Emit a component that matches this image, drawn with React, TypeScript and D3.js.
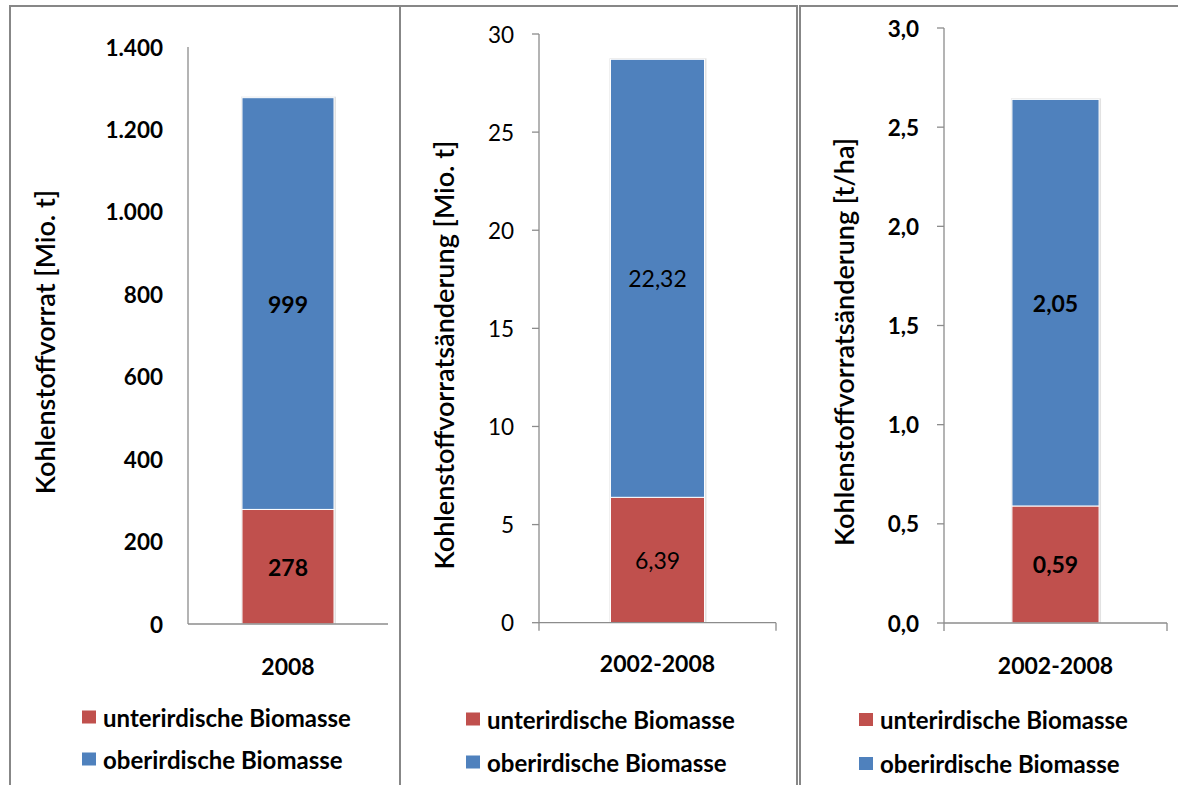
import * as d3 from "d3";
import React from "react";

// chart values
const categories = ["2008", "2002-2008", "2002-2008"];
const seriesNames = ["unterirdische Biomasse", "oberirdische Biomasse"];
const unterirdisch = [278, 6.39, 0.59];
const oberirdisch = [999, 22.32, 2.05];
const yMax = [1400, 30, 3];
const yTicks = [
  [0, 200, 400, 600, 800, 1000, 1200, 1400],
  [0, 5, 10, 15, 20, 25, 30],
  [0, 0.5, 1, 1.5, 2, 2.5, 3],
];
const axisTitles = [
  "Kohlenstoffvorrat [Mio. t]",
  "Kohlenstoffvorratsänderung [Mio. t]",
  "Kohlenstoffvorratsänderung [t/ha]",
];
const tickFormats = [",d", "d", ".1f"];
const labelFormats = ["d", ".2f", ".2f"];

const colors = ["#C0504D", "#4F81BD"];
const FONT = "Lato, 'Open Sans', sans-serif";

const de = d3.formatLocale({ decimal: ",", thousands: ".", grouping: [3], currency: ["", " €"] });

// layout of the three panels
const panels = [
  { left: 10, right: 400, axisX: 188, axisEnd: 388, top: 47, base: 624, pad: 0.587, tickMarks: false, titleX: 44, titleY: 342, catY: 666, legX: 82, legY: [717, 759], tickW: "bold", lblW: "bold" },
  { left: 400, right: 797, axisX: 539, axisEnd: 776, top: 34, base: 622.7, pad: 0.76, tickMarks: true, titleX: 443, titleY: 355, catY: 663, legX: 466, legY: [719, 762], tickW: "normal", lblW: "normal" },
  { left: 800, right: 1182, axisX: 944, axisEnd: 1167, top: 28, base: 623, pad: 0.78, tickMarks: true, titleX: 843, titleY: 342, catY: 665, legX: 859, legY: [719.5, 763.5], tickW: "bold", lblW: "bold" },
];

const Panel = ({ i }: { i: number }) => {
  const p = panels[i];
  const y = d3.scaleLinear([0, yMax[i]], [p.base, p.top]);
  const x = d3.scaleBand([categories[i]], [p.axisX, p.axisEnd]).paddingInner(0).paddingOuter(p.pad);
  const stack = d3.stack<any>().keys(["u", "o"])([{ u: unterirdisch[i], o: oberirdisch[i] }]);
  const fmt = de.format(tickFormats[i]);
  const lfmt = de.format(labelFormats[i]);
  const bx = x(categories[i])!;
  const bw = x.bandwidth();
  const axisColor = "#8c8c8c";
  return (
    <g>
      <rect x={p.left} y={6} width={p.right - p.left} height={800} fill="none" stroke="#878787" strokeWidth={2} />
      {/* bar shadow */}
      <rect x={bx - 1} y={y(unterirdisch[i] + oberirdisch[i]) - 1} width={bw + 3} height={p.base - y(unterirdisch[i] + oberirdisch[i]) + 1} fill="#e2e2e2" />
      {stack.map((s, k) => (
        <g key={k}>
          <rect x={bx} y={y(s[0][1])} width={bw} height={y(s[0][0]) - y(s[0][1])} fill={colors[k]} stroke="#fff" strokeWidth={1} />
          <text x={bx + bw / 2} y={(y(s[0][0]) + y(s[0][1])) / 2} textAnchor="middle" dominantBaseline="central" fontSize={23} fontWeight={p.lblW} fill="#000">
            {lfmt(s[0][1] - s[0][0])}
          </text>
        </g>
      ))}
      <line x1={p.axisX} x2={p.axisX} y1={p.top} y2={p.base} stroke={axisColor} strokeWidth={1.3} />
      <line x1={p.axisX} x2={p.axisEnd} y1={p.base} y2={p.base} stroke={axisColor} strokeWidth={1.3} />
      {p.tickMarks && (
        <>
          <line x1={p.axisX} x2={p.axisX} y1={p.base} y2={p.base + 8} stroke={axisColor} strokeWidth={1.3} />
          <line x1={p.axisEnd} x2={p.axisEnd} y1={p.base} y2={p.base + 8} stroke={axisColor} strokeWidth={1.3} />
        </>
      )}
      {yTicks[i].map((t) => (
        <g key={t}>
          {p.tickMarks && <line x1={p.axisX - 7} x2={p.axisX} y1={y(t)} y2={y(t)} stroke={axisColor} strokeWidth={1.3} />}
          <text x={p.axisX - 25} y={y(t)} textAnchor="end" dominantBaseline="central" fontSize={22.5} fontWeight={p.tickW} fill="#000">
            {fmt(t)}
          </text>
        </g>
      ))}
      <text x={bx + bw / 2} y={p.catY} textAnchor="middle" dominantBaseline="central" fontSize={23} fontWeight="bold" fill="#000">
        {categories[i]}
      </text>
      <text
        transform={`translate(${p.titleX},${p.titleY}) rotate(-90)`}
        textAnchor="middle"
        dominantBaseline="central"
        fontSize={27}
        fontWeight={600}
        fill="#000"
      >
        {axisTitles[i]}
      </text>
      {seriesNames.map((n, k) => (
        <g key={n}>
          <rect x={p.legX} y={p.legY[k] - 6.5} width={14} height={13} fill={colors[k]} />
          <text x={p.legX + 21} y={p.legY[k]} dominantBaseline="central" fontSize={24} fontWeight="bold" fill="#000">
            {n}
          </text>
        </g>
      ))}
    </g>
  );
};

export default function App() {
  return (
    <svg width={1178} height={785} style={{ position: "absolute", left: 0, top: 0, background: "#fff" }} fontFamily={FONT}>
      <rect width={1178} height={785} fill="#fff" />
      {panels.map((_, i) => (
        <Panel key={i} i={i} />
      ))}
    </svg>
  );
}
